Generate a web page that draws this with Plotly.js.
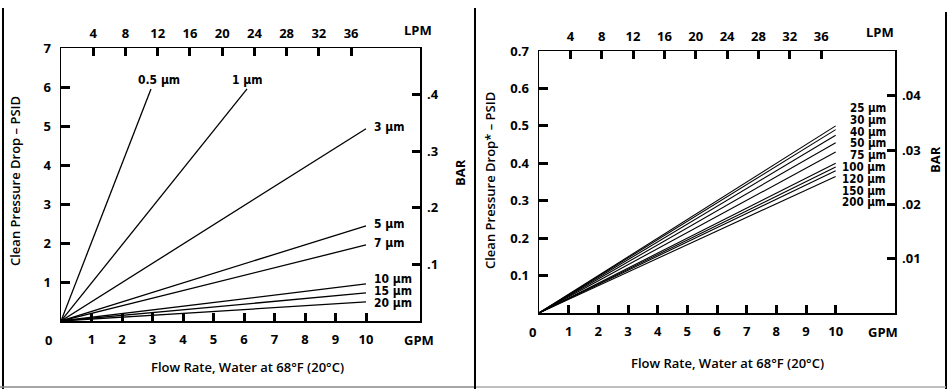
<!DOCTYPE html>
<html><head><meta charset="utf-8">
<script src="https://cdn.plot.ly/plotly-3.0.1.min.js"></script>
<style>html,body{margin:0;padding:0;background:#fff}#c{width:949px;height:389px}</style>
</head><body><div id="c"></div>
<script>
// ---- data ----
const gpmTicks = [1,2,3,4,5,6,7,8,9,10];
const lpmTicks = [4,8,12,16,20,24,28,32,36];
const leftPsidTicks = [1,2,3,4,5,6,7];
const leftBarTicks = [0.1,0.2,0.3,0.4];
const leftBarText = ['.1','.2','.3','.4'];
const rightPsidTicks = [0.1,0.2,0.3,0.4,0.5,0.6,0.7];
const rightBarTicks = [0.01,0.02,0.03,0.04];
const rightBarText = ['.01','.02','.03','.04'];

const leftMicrons = ['0.5 µm','1 µm','3 µm','5 µm','7 µm','10 µm','15 µm','20 µm'];
const leftEndFlow = [2.95, 6.1, 10, 10, 10, 10, 10, 10];
const leftEndPsid = [5.95, 5.95, 4.93, 2.44, 1.95, 0.95, 0.72, 0.49];

const rightMicrons = ['25 µm','30 µm','40 µm','50 µm','75 µm','100 µm','120 µm','150 µm','200 µm'];
const rightEndFlow = [10,10,10,10,10,10,10,10,10];
const rightEndPsid = [0.50, 0.49, 0.475, 0.455, 0.43, 0.40, 0.39, 0.38, 0.365];

const LPM_PER_GPM = 3.78541, PSI_PER_BAR = 14.5038;

// ---- geometry ----
const W = 949, H = 389;
const px = v => v / W, py = v => 1 - v / H;
const F = {family: 'Open Sans, DejaVu Sans, sans-serif', size: 13, color: '#000', weight: 700};
const Fs = {family: 'DejaVu Sans Condensed, Liberation Sans Narrow, Open Sans, sans-serif', size: 12, color: '#000', weight: 700};
const FsR = Object.assign({}, Fs, {size: 11.5});

const L = {x0: 61, x1: 420, yTop: 48, yBot: 321};
const R = {x0: 539, x1: 895, yTop: 51, yBot: 313};
const leftX = [0, 11.77], leftY = [0, 7];
const rightX = [0, 12], rightY = [0, 0.7];

const traces = [];
leftMicrons.forEach((n, i) => traces.push({type: 'scatter', mode: 'lines', x: [0, leftEndFlow[i]], y: [0, leftEndPsid[i]],
  xaxis: 'x', yaxis: 'y', line: {color: '#000', width: 1.3}, hoverinfo: 'skip', showlegend: false}));
rightMicrons.forEach((n, i) => traces.push({type: 'scatter', mode: 'lines', x: [0, rightEndFlow[i]], y: [0, rightEndPsid[i]],
  xaxis: 'x2', yaxis: 'y2', line: {color: '#000', width: 1.1}, hoverinfo: 'skip', showlegend: false}));
// empty traces so the secondary (LPM / BAR) axes get drawn
[['x3','y'],['x','y3'],['x4','y2'],['x2','y4']].forEach(([xa, ya]) =>
  traces.push({type: 'scatter', mode: 'lines', x: [], y: [], xaxis: xa, yaxis: ya, hoverinfo: 'skip', showlegend: false}));

const baseAx = {showgrid: false, zeroline: false, showline: true, linecolor: '#000', linewidth: 1.5,
  ticks: 'inside', ticklen: 8, tickwidth: 3, tickcolor: '#000', tickfont: F, fixedrange: true, layer: 'above traces'};

const layout = {
  width: W, height: H, margin: {l: 0, r: 0, t: 0, b: 0},
  paper_bgcolor: '#fff', plot_bgcolor: 'rgba(0,0,0,0)', showlegend: false,
  xaxis: Object.assign({}, baseAx, {domain: [px(L.x0), px(L.x1)], range: leftX, tickvals: gpmTicks, anchor: 'y', mirror: true, ticklabelstandoff: 6}),
  yaxis: Object.assign({}, baseAx, {domain: [py(L.yBot), py(L.yTop)], range: leftY, tickvals: leftPsidTicks, anchor: 'x', mirror: true, ticklen: 9, ticklabelstandoff: 6}),
  xaxis3: Object.assign({}, baseAx, {overlaying: 'x', side: 'top', anchor: 'y', range: leftX.map(v => v * LPM_PER_GPM), tickvals: lpmTicks, showline: false, ticklabelstandoff: 6}),
  yaxis3: Object.assign({}, baseAx, {overlaying: 'y', side: 'right', anchor: 'x', range: leftY.map(v => v / PSI_PER_BAR), tickvals: leftBarTicks, ticktext: leftBarText, showline: false, ticklabelstandoff: 6}),
  xaxis2: Object.assign({}, baseAx, {domain: [px(R.x0), px(R.x1)], range: rightX, tickvals: gpmTicks, anchor: 'y2', mirror: true, ticklabelstandoff: 6}),
  yaxis2: Object.assign({}, baseAx, {domain: [py(R.yBot), py(R.yTop)], range: rightY, tickvals: rightPsidTicks, tickformat: '.1f', anchor: 'x2', mirror: true, ticklen: 9, ticklabelstandoff: 6}),
  xaxis4: Object.assign({}, baseAx, {overlaying: 'x2', side: 'top', anchor: 'y2', range: rightX.map(v => v * LPM_PER_GPM), tickvals: lpmTicks, showline: false, ticklabelstandoff: 6}),
  yaxis4: Object.assign({}, baseAx, {overlaying: 'y2', side: 'right', anchor: 'x2', range: rightY.map(v => v / PSI_PER_BAR), tickvals: rightBarTicks, ticktext: rightBarText, showline: false, ticklabelstandoff: 6}),
  annotations: [],
  shapes: [
    {type:'line', xref:'paper', yref:'paper', x0:px(3), x1:px(3), y0:py(8), y1:py(389), line:{color:'#000', width:2}},
    {type:'line', xref:'paper', yref:'paper', x0:px(475), x1:px(475), y0:py(8), y1:py(389), line:{color:'#000', width:2}},
    {type:'line', xref:'paper', yref:'paper', x0:px(946), x1:px(946), y0:py(12), y1:py(389), line:{color:'#000', width:2}},
    {type:'line', xref:'paper', yref:'paper', x0:px(0), x1:px(474), y0:py(387), y1:py(387), line:{color:'#888', width:1.5}},
    {type:'line', xref:'paper', yref:'paper', x0:px(476), x1:px(946), y0:py(387), y1:py(387), line:{color:'#aaa', width:1.5}}
  ]
};

const A = layout.annotations;
const txt = (text, x, y, opts) => A.push(Object.assign({text, x: px(x), y: py(y), xref: 'paper', yref: 'paper', showarrow: false, font: F, xanchor: 'center', yanchor: 'middle'}, opts || {}));
const Ft = Object.assign({}, F, {weight: 600});

// axis titles / unit labels (left)
txt('Clean Pressure Drop – PSID', 15, 181, {textangle: -90, font: Ft});
txt('BAR', 460, 173, {textangle: -90});
txt('Flow Rate, Water at 68°F (20°C)', 248, 367, {font: Ft});
txt('GPM', 419, 340);
txt('LPM', 418, 30);
txt('0', 48, 340);
// right
txt('Clean Pressure Drop* – PSID', 490, 181, {textangle: -90, font: Ft});
txt('BAR', 935, 160, {textangle: -90});
txt('Flow Rate, Water at 68°F (20°C)', 727, 363, {font: Ft});
txt('GPM', 883, 332);
txt('LPM', 880, 32);
txt('0', 532, 332);

// spread label positions (pixel y, top->bottom) so that they are at least `gap` apart
function spread(ys, gap) {
  let clusters = ys.map(y => ({items: [y], c: y}));
  let changed = true;
  while (changed) {
    changed = false;
    for (let i = 1; i < clusters.length; i++) {
      const a = clusters[i - 1], b = clusters[i];
      const aEnd = a.c + (a.items.length - 1) * gap / 2, bStart = b.c - (b.items.length - 1) * gap / 2;
      if (bStart - aEnd < gap) {
        const items = a.items.concat(b.items);
        const c = items.reduce((s, v) => s + v, 0) / items.length;
        clusters.splice(i - 1, 2, {items, c});
        changed = true; break;
      }
    }
  }
  const out = [];
  clusters.forEach(cl => cl.items.forEach((_, k) => out.push(cl.c + (k - (cl.items.length - 1) / 2) * gap)));
  return out;
}

// micron labels (left chart)
const lyPix = v => L.yTop + (leftY[1] - v) / (leftY[1] - leftY[0]) * (L.yBot - L.yTop);
const lxPix = v => L.x0 + (v - leftX[0]) / (leftX[1] - leftX[0]) * (L.x1 - L.x0);
const sideIdx = leftMicrons.map((_, i) => i).filter(i => leftEndFlow[i] >= 10);
const sideY = spread(sideIdx.map(i => lyPix(leftEndPsid[i]) - 2), 12);
leftMicrons.forEach((n, i) => {
  if (leftEndFlow[i] < 10) {
    A.push({text: n, x: leftEndFlow[i], y: leftEndPsid[i], xref: 'x', yref: 'y', showarrow: false, font: Fs,
      xanchor: 'center', yanchor: 'bottom', yshift: 1, xshift: i === 0 ? 8 : 0, borderpad: 0});
  } else {
    const k = sideIdx.indexOf(i);
    A.push({text: n, x: px(lxPix(leftEndFlow[i]) + 7), y: py(sideY[k]), xref: 'paper', yref: 'paper', showarrow: false, font: Fs,
      xanchor: 'left', yanchor: 'middle', borderpad: 0});
  }
});
// micron labels (right chart) - stacked column
rightMicrons.forEach((n, i) => {
  A.push({text: n, x: px(887), y: py(108 + i * 11.8), xref: 'paper', yref: 'paper', showarrow: false,
    font: FsR, xanchor: 'right', yanchor: 'middle', borderpad: 0});
});

Plotly.newPlot('c', traces, layout, {staticPlot: true, displayModeBar: false});
</script></body></html>
